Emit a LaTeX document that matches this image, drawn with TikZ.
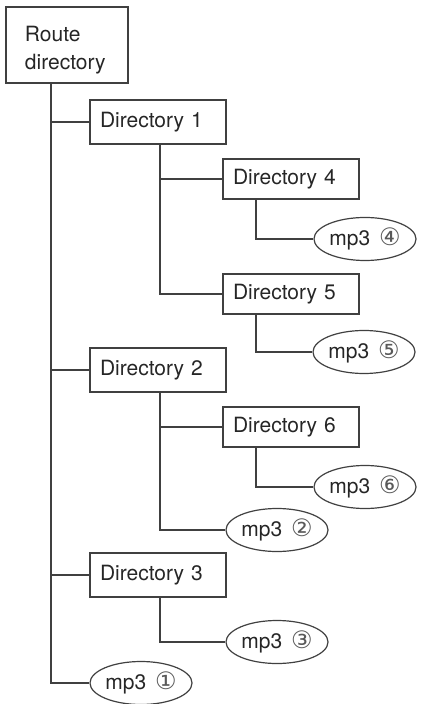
\documentclass[tikz,border=0pt]{standalone}
\usepackage{fontspec}
\setmainfont{TeX Gyre Heros}
\newfontfamily\digitfont{DejaVu Sans}
\newcommand{\cnum}[1]{\hspace{1.5pt}{\digitfont\fontsize{12}{12}\selectfont\color{black!65}\raisebox{-0.4pt}{#1}}}
\usetikzlibrary{shapes.geometric}

\tikzstyle{textonly}=[align=left, font=\fontsize{10.5}{14}\selectfont, text=black!85]
\tikzstyle{dirbox}=[textonly, rectangle, draw=black!75, line width=0.6pt, text width=58pt, inner xsep=5pt, inner ysep=0pt, minimum height=22pt]
\tikzstyle{subbox}=[dirbox, minimum height=20pt]
\tikzstyle{rootbox}=[dirbox, text width=42pt, inner xsep=9.5pt, minimum height=38pt]
\tikzstyle{file}=[textonly, align=center, ellipse, draw=black!75, line width=0.6pt, inner sep=0pt, minimum width=51pt, minimum height=21.5pt]
\tikzstyle{branch}=[draw=black!75, line width=0.6pt]

\begin{document}
\begin{tikzpicture}[x=0.5pt, y=-0.5pt]
  \useasboundingbox (0,0) rectangle (421,704);

  % Nodes
  \node (root) [rootbox] at (67,45) {\rule{0pt}{13pt}Route\\directory};
  \node (dir1) [dirbox] at (158,122) {Directory 1};
  \node (dir4) [subbox] at (291,179) {Directory 4};
  \node (mp4) [file] at (365,239) {mp3~\cnum{④}};
  \node (dir5) [subbox] at (291,294) {Directory 5};
  \node (mp5) [file] at (364,352) {mp3~\cnum{⑤}};
  \node (dir2) [dirbox] at (158,370) {Directory 2};
  \node (dir6) [subbox] at (291,427) {Directory 6};
  \node (mp6) [file] at (365,487) {mp3~\cnum{⑥}};
  \node (mp2) [file] at (277,530) {mp3~\cnum{②}};
  \node (dir3) [dirbox] at (158,575) {Directory 3};
  \node (mp3) [file] at (277,642) {mp3~\cnum{③}};
  \node (mp1) [file] at (141,683) {mp3~\cnum{①}};

  % Lines
  \coordinate (trunk) at (51,0);
  \coordinate (mid) at (160,0);
  \coordinate (leaf) at (256,0);
  \draw [branch] (root.south -| trunk) |- (mp1.west);
  \draw [branch] (dir1.west -| trunk) -- (dir1.west);
  \draw [branch] (dir2.west -| trunk) -- (dir2.west);
  \draw [branch] (dir3.west -| trunk) -- (dir3.west);

  \draw [branch] (dir1.south -| mid) |- (dir5.west);
  \draw [branch] (dir4.west -| mid) -- (dir4.west);
  \draw [branch] (dir2.south -| mid) |- (mp2.west);
  \draw [branch] (dir6.west -| mid) -- (dir6.west);
  \draw [branch] (dir3.south -| mid) |- (mp3.west);

  \draw [branch] (dir4.south -| leaf) |- (mp4.west);
  \draw [branch] (dir5.south -| leaf) |- (mp5.west);
  \draw [branch] (dir6.south -| leaf) |- (mp6.west);
\end{tikzpicture}
\end{document}
